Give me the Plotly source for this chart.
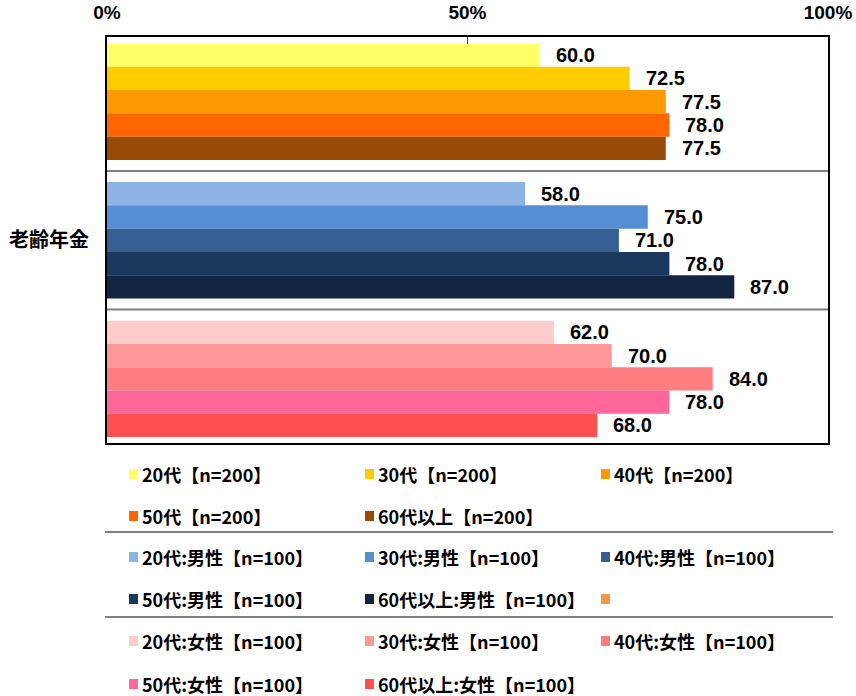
import plotly.graph_objects as go

# Groups (top to bottom) and the five bars in each group
groups = ["全体", "男性", "女性"]
group_label = "老齢年金"

values_all = [60.0, 72.5, 77.5, 78.0, 77.5]
values_male = [58.0, 75.0, 71.0, 78.0, 87.0]
values_female = [62.0, 70.0, 84.0, 78.0, 68.0]

colors_all = ["#FFFF66", "#FFCC00", "#FF9900", "#FF6600", "#994A07"]
colors_male = ["#8EB4E3", "#558ED5", "#376092", "#1A375E", "#12243F"]
colors_female = ["#FFCCCC", "#FF9999", "#FF7C80", "#FF6699", "#FF5050"]

names_all = ["20代【n=200】", "30代【n=200】", "40代【n=200】", "50代【n=200】", "60代以上【n=200】"]
names_male = ["20代:男性【n=100】", "30代:男性【n=100】", "40代:男性【n=100】",
              "50代:男性【n=100】", "60代以上:男性【n=100】"]
names_female = ["20代:女性【n=100】", "30代:女性【n=100】", "40代:女性【n=100】",
                "50代:女性【n=100】", "60代以上:女性【n=100】"]

# A stray legend key with no text in the male block
stray_key_color = "#F79646"

x_ticks = [0, 50, 100]
x_tick_text = ["0%", "50%", "100%"]

# ---- layout geometry (pixels) ----
FIG_W, FIG_H = 856, 696
M_L, M_R, M_T, M_B = 107, 28, 37, 253
PW = FIG_W - M_L - M_R
PH = FIG_H - M_T - M_B
Y_RANGE = [2.463, -0.467]
BAR_GAP = 0.16

NUM_FONT = "Liberation Sans, Arial, sans-serif"
JP_FONT = "Noto Sans CJK JP, sans-serif"


def px_x(px):
    return (px - M_L) / PW


def px_y(py):
    return (FIG_H - M_B - py) / PH


fig = go.Figure()

series_vals = [values_all, values_male, values_female]
series_cols = [colors_all, colors_male, colors_female]

# One trace per age slot; each point gets the colour of its group
for i in range(5):
    fig.add_trace(go.Bar(
        orientation="h",
        y=groups,
        x=[vals[i] for vals in series_vals],
        marker=dict(color=[cols[i] for cols in series_cols], line=dict(width=0)),
        hoverinfo="skip",
        showlegend=False,
    ))

# Value labels to the right of each bar
px_per_cat = PH / abs(Y_RANGE[0] - Y_RANGE[1])
slot_px = px_per_cat * (1 - BAR_GAP) / 5
for g, vals in zip(groups, series_vals):
    for i, v in enumerate(vals):
        fig.add_annotation(
            x=v, y=g, xref="x", yref="y",
            text=f"{v:.1f}", showarrow=False,
            xanchor="left", yanchor="middle",
            xshift=14, yshift=-(i - 2) * slot_px,
            font=dict(family=NUM_FONT, size=20, color="#000000", weight="bold"),
        )

fig.update_layout(
    width=FIG_W, height=FIG_H,
    margin=dict(l=M_L, r=M_R, t=M_T, b=M_B, pad=0, autoexpand=False),
    paper_bgcolor="#FFFFFF",
    plot_bgcolor="#FFFFFF",
    barmode="group",
    bargap=BAR_GAP,
    bargroupgap=0,
    showlegend=False,
    xaxis=dict(
        side="top",
        range=[0, 100],
        tickmode="array",
        tickvals=x_ticks,
        ticktext=x_tick_text,
        ticks="inside",
        ticklen=7,
        tickwidth=1,
        tickcolor="#404040",
        showgrid=False,
        zeroline=False,
        showline=True,
        linecolor="#000000",
        linewidth=2,
        mirror=True,
        automargin=False,
        tickfont=dict(family=NUM_FONT, size=19, color="#000000", weight="bold"),
        ticklabelstandoff=8,
        fixedrange=True,
    ),
    yaxis=dict(
        type="category",
        categoryorder="array",
        categoryarray=groups,
        range=Y_RANGE,
        tickmode="array",
        tickvals=[groups[1]],
        ticktext=[group_label],
        ticks="",
        showgrid=False,
        zeroline=False,
        showline=True,
        linecolor="#000000",
        linewidth=2,
        mirror=True,
        automargin=False,
        tickfont=dict(family=JP_FONT, size=20, color="#000000", weight="bold"),
        ticklabelstandoff=12,
        fixedrange=True,
    ),
)

# Separator lines between the groups inside the plot
for yb in [0.5, 1.5]:
    fig.add_shape(type="line", xref="x", yref="y", x0=0, x1=100, y0=yb, y1=yb,
                  line=dict(color="#808080", width=2))

# ---- legend drawn below the plot ----
legend_cols_px = [129, 365, 601]
legend_rows_px = [[474, 516], [557, 599], [641, 684]]
legend_sep_px = [532, 617]
KEY_W, KEY_H = 9, 10

for sep in legend_sep_px:
    fig.add_shape(type="line", xref="paper", yref="paper",
                  x0=px_x(105), x1=px_x(833), y0=px_y(sep), y1=px_y(sep),
                  line=dict(color="#808080", width=2))


def add_key(col_px, row_py, color, label):
    fig.add_shape(type="rect", xref="paper", yref="paper",
                  x0=px_x(col_px), x1=px_x(col_px + KEY_W),
                  y0=px_y(row_py - KEY_H / 2), y1=px_y(row_py + KEY_H / 2),
                  line=dict(width=0), fillcolor=color)
    if label:
        fig.add_annotation(xref="paper", yref="paper",
                           x=px_x(col_px + KEY_W + 2), y=px_y(row_py),
                           text=label, showarrow=False,
                           xanchor="left", yanchor="middle",
                           font=dict(family=JP_FONT, size=18, color="#000000", weight="bold"))


for block, (names, cols) in enumerate([(names_all, colors_all),
                                        (names_male, colors_male),
                                        (names_female, colors_female)]):
    for k, (nm, c) in enumerate(zip(names, cols)):
        r, cidx = divmod(k, 3)
        add_key(legend_cols_px[cidx], legend_rows_px[block][r], c, nm)

add_key(legend_cols_px[2], legend_rows_px[1][1], stray_key_color, "")

fig.write_html("out.html")
